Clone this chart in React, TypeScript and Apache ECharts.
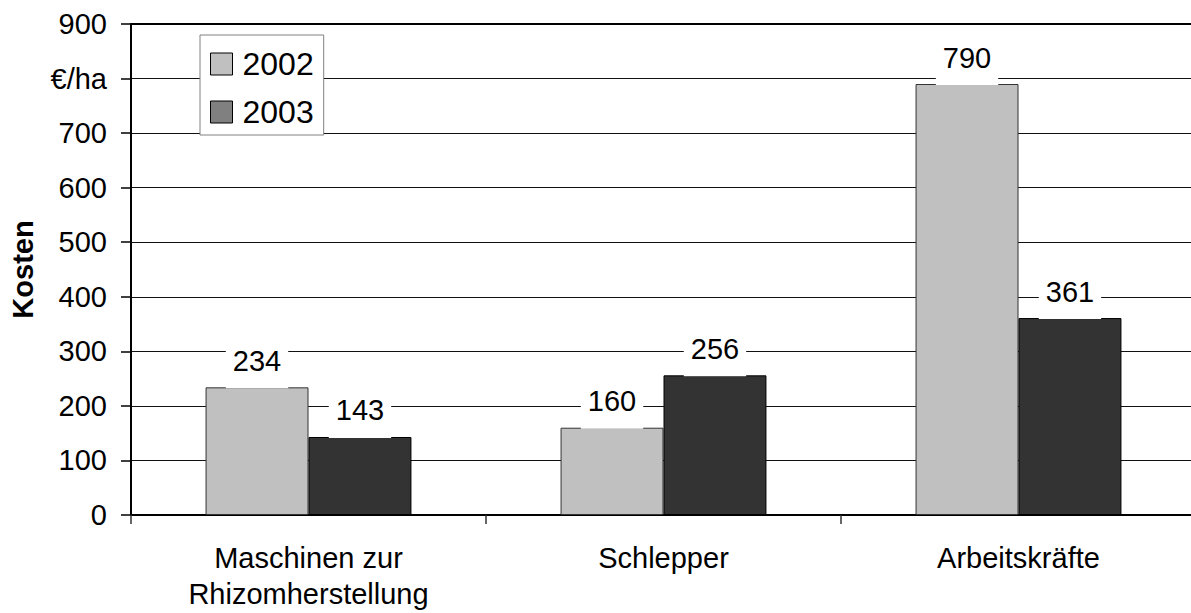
import React, { useEffect, useRef } from "react";
import * as echarts from "echarts";

// Cost categories and yearly values (€/ha)
const categories = ["Maschinen zur\nRhizomherstellung", "Schlepper", "Arbeitskräfte"];
const years = ["2002", "2003"];
const values2002 = [234, 160, 790];
const values2003 = [143, 256, 361];
const yTicks = { min: 0, max: 900, step: 100 };
const unitTick = 800;
const unitLabel = "€/ha";
const axisTitle = "Kosten";

const FONT = "'Liberation Sans', Arial, Helvetica, sans-serif";

export default function App() {
  const ref = useRef<HTMLDivElement>(null);

  useEffect(() => {
    if (!ref.current) return;
    const chart = echarts.init(ref.current, null, { renderer: "svg" });

    const valueLabel = {
      show: true,
      position: "top",
      distance: -1,
      color: "#000",
      fontFamily: FONT,
      fontSize: 29,
      lineHeight: 29,
      backgroundColor: "#fff",
      padding: [4, 7, 13, 7],
    };

    chart.setOption({
      animation: false,
      backgroundColor: "#fff",
      textStyle: { fontFamily: FONT },
      // the plot runs slightly past the right edge of the visible frame
      grid: { left: 129, top: 24, width: 1067, height: 491, containLabel: false },
      legend: {
        orient: "vertical",
        left: 200,
        top: 35,
        padding: [13, 10, 7, 10],
        itemGap: 16,
        itemWidth: 22,
        itemHeight: 22,
        icon: "rect",
        backgroundColor: "#fff",
        borderColor: "#808080",
        borderWidth: 1,
        textStyle: { fontFamily: FONT, fontSize: 32, color: "#000", padding: [0, 0, 0, 5] },
        data: [
          { name: years[0], itemStyle: { color: "#c0c0c0", borderColor: "#000", borderWidth: 1 } },
          { name: years[1], itemStyle: { color: "#808080", borderColor: "#000", borderWidth: 1 } },
        ],
      },
      xAxis: [
        {
          type: "category",
          data: categories,
          axisLine: { lineStyle: { color: "#000", width: 2 } },
          axisTick: { show: true, length: 9, lineStyle: { color: "#333", width: 1.5 } },
          axisLabel: {
            color: "#000",
            fontFamily: FONT,
            fontSize: 29,
            lineHeight: 36,
            margin: 25,
            interval: 0,
          },
        },
        {
          type: "category",
          position: "top",
          data: categories,
          axisLine: { show: true, lineStyle: { color: "#000", width: 2 } },
          axisTick: { show: false },
          axisLabel: { show: false },
        },
      ],
      yAxis: {
        type: "value",
        min: yTicks.min,
        max: yTicks.max,
        interval: yTicks.step,
        name: axisTitle,
        nameLocation: "middle",
        nameRotate: 90,
        nameGap: 94,
        nameTextStyle: { fontFamily: FONT, fontSize: 29, fontWeight: "bold", color: "#000" },
        axisLine: { show: true, lineStyle: { color: "#000", width: 2 } },
        axisTick: { show: true, length: 10, lineStyle: { color: "#000", width: 1.5 } },
        axisLabel: {
          color: "#000",
          fontFamily: FONT,
          fontSize: 29,
          margin: 24,
          formatter: (v: number) => (v === unitTick ? unitLabel : String(v)),
        },
        splitLine: { show: true, lineStyle: { color: "#111", width: 1 } },
      },
      series: [
        {
          name: years[0],
          type: "bar",
          data: values2002,
          barGap: "0%",
          barCategoryGap: "42%",
          itemStyle: { color: "#c0c0c0", borderColor: "#333", borderWidth: 1 },
          label: valueLabel,
        },
        {
          name: years[1],
          type: "bar",
          data: values2003,
          barGap: "0%",
          barCategoryGap: "42%",
          itemStyle: { color: "#333333", borderColor: "#000", borderWidth: 1 },
          label: valueLabel,
        },
      ],
    });

    return () => chart.dispose();
  }, []);

  return (
    <div
      style={{
        position: "fixed",
        left: 0,
        top: 0,
        width: 1191,
        height: 613,
        overflow: "hidden",
        background: "#fff",
      }}
    >
      <div ref={ref} style={{ width: 1210, height: 613 }} />
    </div>
  );
}
